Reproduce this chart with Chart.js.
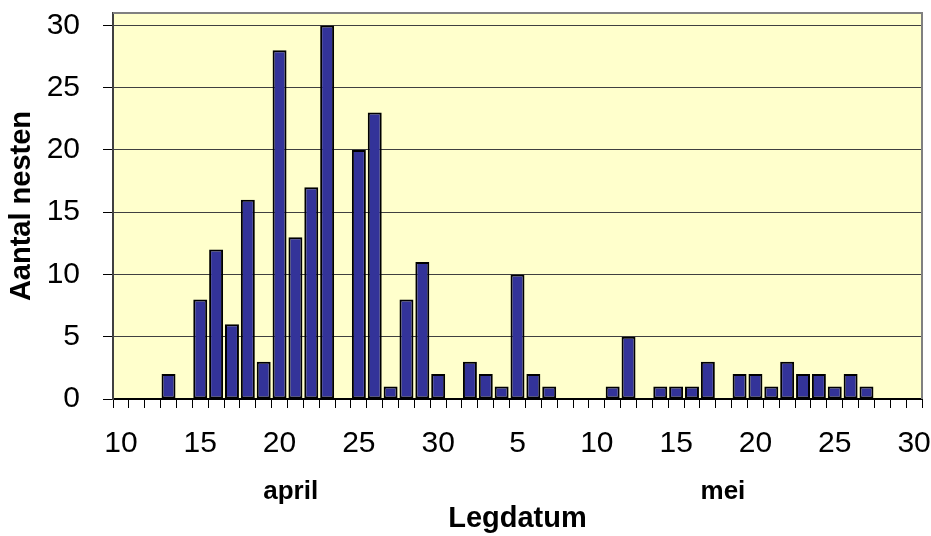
<!DOCTYPE html>
<html>
<head>
<meta charset="utf-8">
<script src="https://cdn.jsdelivr.net/npm/chart.js@4/dist/chart.umd.min.js"></script>
<style>
  body { margin: 0; background: #fff; }
  #wrap { width: 931px; height: 536px; position: relative; }
</style>
</head>
<body>
<div id="wrap"><canvas id="myChart"></canvas></div>
<script>
// legdatum: 10 april t/m 30 mei
var days = ['10','11','12','13','14','15','16','17','18','19','20','21','22','23','24','25','26','27','28','29','30',
            '1','2','3','4','5','6','7','8','9','10','11','12','13','14','15','16','17','18','19','20',
            '21','22','23','24','25','26','27','28','29','30'];
// aantal nesten per dag
var nesten = [0,0,0,2,0,8,12,6,16,3,28,13,17,30,0,20,23,1,8,11,2,
              0,3,2,1,10,2,1,0,0,0,1,5,0,1,1,1,3,0,2,2,
              1,3,2,2,1,2,1,0,0,0];
var months = ['april', 'mei'];
var yTicks = [0, 5, 10, 15, 20, 25, 30];

var font = "'Liberation Sans', Arial, sans-serif";

var plotBg = {
     id: 'plotBg',
     beforeDraw: function (chart) {
          var a = chart.chartArea, ctx = chart.ctx;
          ctx.save();
          ctx.fillStyle = '#FFFFCC';
          ctx.fillRect(a.left, a.top, a.right - a.left, a.bottom - a.top);
          ctx.restore();
     },
     afterDraw: function (chart) {
          var a = chart.chartArea, ctx = chart.ctx;
          ctx.save();
          ctx.strokeStyle = '#808080';
          ctx.lineWidth = 2;
          ctx.beginPath();
          ctx.moveTo(a.left, a.top);
          ctx.lineTo(a.right, a.top);
          ctx.lineTo(a.right, a.bottom);
          ctx.stroke();
          // maandnamen onder de as
          var x = chart.scales.x;
          ctx.fillStyle = '#000';
          ctx.font = 'bold 26px ' + font;
          ctx.textAlign = 'center';
          ctx.textBaseline = 'alphabetic';
          ctx.fillText(months[0], x.getPixelForValue(10.7), 499);
          ctx.fillText(months[1], x.getPixelForValue(37.95), 499);
          ctx.restore();
     }
};

new Chart("myChart", {
     type: "bar",
     data: {
          labels: days,
          datasets: [{
               data: nesten,
               backgroundColor: "#333399",
               borderColor: "#000000",
               borderWidth: 2,
               borderSkipped: false,
               barPercentage: 0.88,
               categoryPercentage: 1.0
          }]
     },
     options: {
          responsive: true,
          maintainAspectRatio: false,
          animation: false,
          layout: { padding: { left: 0, right: 9, top: 13, bottom: 0 } },
          plugins: {
               legend: { display: false },
               tooltip: { enabled: false }
          },
          scales: {
               x: {
                    grid: {
                         display: true,
                         drawOnChartArea: false,
                         offset: true,
                         tickLength: 9,
                         tickColor: '#000',
                         tickWidth: 1
                    },
                    border: { display: true, color: '#000', width: 2 },
                    ticks: {
                         autoSkip: false,
                         maxRotation: 0,
                         minRotation: 0,
                         padding: 18,
                         color: '#000',
                         font: { family: font, size: 30 },
                         callback: function (val, i) {
                              var d = parseInt(days[i], 10);
                              return d % 5 === 0 ? days[i] : '';
                         }
                    },
                    title: {
                         display: true,
                         text: 'Legdatum',
                         color: '#000',
                         font: { family: font, size: 29, weight: 'bold' },
                         padding: { top: 0, bottom: 0 }
                    },
                    afterFit: function (scale) {
                         scale.height = 137;
                         scale.paddingLeft = 0;
                         scale.paddingRight = 0;
                    }
               },
               y: {
                    min: 0,
                    max: 31,
                    afterBuildTicks: function (scale) {
                         scale.ticks = yTicks.map(function (v) { return { value: v }; });
                    },
                    grid: {
                         color: '#404040',
                         lineWidth: 1,
                         tickLength: 10,
                         tickColor: '#000'
                    },
                    border: { display: true, color: '#404040', width: 2 },
                    ticks: {
                         padding: 23,
                         color: '#000',
                         font: { family: font, size: 30 }
                    },
                    title: {
                         display: true,
                         text: 'Aantal nesten',
                         color: '#000',
                         font: { family: font, size: 29, weight: 'bold' },
                         padding: { top: 5, bottom: 0 }
                    },
                    afterFit: function (scale) {
                         scale.width = 113;
                         scale.paddingTop = 0;
                         scale.paddingBottom = 0;
                    }
               }
          }
     },
     plugins: [plotBg]
});
</script>
</body>
</html>
